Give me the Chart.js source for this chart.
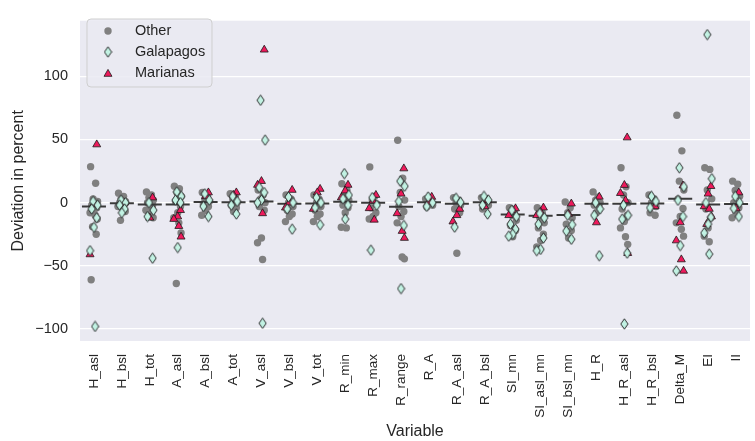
<!DOCTYPE html>
<html lang="en">

<head>
  <meta charset="UTF-8">
  <title>Deviation by variable</title>
  <script src="https://cdn.jsdelivr.net/npm/chart.js"></script>
  <style>
    html, body {
      margin: 0;
      padding: 0;
      background: #ffffff;
      overflow: hidden;
    }

    #devChart {
      display: block;
    }
  </style>
</head>

<body>
  <canvas id="devChart" width="764" height="441"></canvas>

  <script>
    const categories = ['H_asl', 'H_bsl', 'H_tot', 'A_asl', 'A_bsl', 'A_tot', 'V_asl', 'V_bsl', 'V_tot',
      'R_min', 'R_max', 'R_range', 'R_A', 'R_A_asl', 'R_A_bsl', 'SI_mn', 'SI_asl_mn', 'SI_bsl_mn',
      'H_R', 'H_R_asl', 'H_R_bsl', 'Delta_M', 'EI', 'II'];

    const yTicks = [-100, -50, 0, 50, 100];

    // mean per variable (short dark dash)
    const meanVals = [-3, -0.5, -1.5, -1.5, 0.5, 0.4, 1, -0.8, -0.6, 0.8, 0, -3.3,
      0.4, -0.8, 0.4, -9.3, -10.3, -9.8, -0.8, -0.8, -0.6, 3, -1.5, -1];

    const otherVals = [
      [28.5, 15.4, 3, 1, -2, -4, -6, -8, -10, -13, -19, -25, -61],
      [7.5, 5, 3, 1, 0, -1, -2, -3, -5, -7, -14],
      [8.5, 6, 4, 2, 0, -2, -4, -6, -9, -12],
      [13, 11, 8, 5, 1, -3, -8, -12, -16, -24, -64],
      [8, 5, 3, 1, -1, -3, -6, -10],
      [7, 5, 3, 0, -2, -4, -7],
      [10, 6, 3, 0, -3, -6, -28, -31.7, -45],
      [6, 3, 0, -3, -6, -9, -11, -15],
      [6, 3, 0, -3, -6, -9, -11, -15],
      [15, 10, 6, 2, -2, -4, -8, -19.5, -20],
      [28.3, 5, 2, -1, -4, -8, -11, -13],
      [49.4, 19.3, 8, 2, -3, -7, -11, -16, -43, -44.5],
      [3, 2, 0, -2, -3.5],
      [4, 2, 0, -2, -5, -8, -40],
      [4, 2, 0, -2, -5],
      [-4, -7, -10, -14, -18, -22, -27],
      [-4, -8, -12, -16, -20, -25, -30, -35],
      [0.5, -4, -8, -12, -17, -22, -28],
      [8.5, 4.6, 2, 0, -2, -5, -8],
      [27.6, 12.6, 6, 0, -5, -10, -15, -20, -27, -33],
      [6, 3, 0, -3, -8, -10],
      [69.2, 41, 17, 10, 3, -4.6, -11, -16, -21, -26.5],
      [27.6, 26.3, 10, 3, -5, -12, -20, -26.5, -31],
      [17, 14.5, 9.6, 5, 0, -4, -8, -12]
    ];

    const galapagosVals = [
      [1, -2, -5, -12, -19.5, -38, -98],
      [2, 0, -2, -5, -8],
      [0, -6, -11, -44],
      [8.5, 5, 2, 0, -35.5],
      [7, 2, -3, -11],
      [5, 1, -2, -9],
      [81, 49.5, 12, 8, 2, 0, -95.5],
      [4.5, 0, -5, -21],
      [4, 0, -4, -17.5],
      [23, 6, 3, -2, -13],
      [4, -2, -37.6],
      [17, 13, 1, -18, -68],
      [4.5, 0, -3],
      [3.5, 0.3, -19.4],
      [5, 2, -2, -9],
      [-6, -11, -17, -21, -25, -26.5],
      [-8.5, -12, -17, -28, -37, -38],
      [-10, -17.4, -22.5, -29],
      [0, -5, -10, -42],
      [-2, -10, -13, -40, -96],
      [5, 1, -4],
      [27.6, 12.6, 1.8, -11, -34, -54],
      [133, 19, 0, -11.6, -17, -24, -40.7],
      [5, 0, -4.6, -11]
    ];

    const marianasVals = [
      [46, -1, -41],
      [0, -1],
      [4, -12],
      [-6, -11, -13, -18.6, -27],
      [8, 5],
      [8, 6],
      [121, 17, 14, -8.5],
      [10, 0, -4],
      [10.8, 8, -5],
      [14, 9.5, 4],
      [6, 1.5, -4.5, -13.6],
      [27, 7, -8.5, -22.5, -28],
      [4.5, 0.5],
      [-5, -10, -15],
      [2, -3],
      [-4.6, -6, -10],
      [-4, -7.5, -10],
      [-0.8, -9],
      [4.6, -15.7],
      [51.5, 13.9, 7.5, 1.8, -40],
      [-3],
      [13.5, -15.7, -30, -45, -54],
      [13, 7, -3, -5, -11, -17],
      [8, -4.6]
    ];

    // fixed strip offsets so points in one column do not sit on top of each other
    const jitter = [-0.12, 0.06, -0.03, 0.13, -0.08, 0.1, 0.0, -0.14, 0.04, 0.12, -0.05, 0.08, -0.1];

    const textColor = '#262626';
    const fontFamily = '"Liberation Sans", Arial, sans-serif';

    function toPoints(groups, shift) {
      const pts = [];
      groups.forEach((vals, i) => {
        vals.forEach((v, k) => {
          pts.push({ x: i + jitter[(k + shift) % jitter.length], y: v });
        });
      });
      return pts;
    }

    // thin diamond marker like matplotlib's 'd'
    function makeDiamond() {
      const c = document.createElement('canvas');
      c.width = 9;
      c.height = 12;
      const g = c.getContext('2d');
      g.beginPath();
      g.moveTo(4.5, 0.8);
      g.lineTo(8.1, 6);
      g.lineTo(4.5, 11.2);
      g.lineTo(0.9, 6);
      g.closePath();
      g.fillStyle = '#c2f2e3';
      g.fill();
      g.lineWidth = 0.9;
      g.strokeStyle = '#1a1a1a';
      g.stroke();
      return c;
    }
    const diamond = makeDiamond();

    const plotBackground = {
      id: 'plotBackground',
      beforeDraw(chart) {
        const { ctx, chartArea } = chart;
        ctx.save();
        ctx.fillStyle = '#eaeaf2';
        ctx.fillRect(chartArea.left, chartArea.top, chartArea.right - chartArea.left, chartArea.bottom - chartArea.top);
        ctx.restore();
      }
    };

    const legendBox = {
      id: 'legendBox',
      afterDraw(chart) {
        const ctx = chart.ctx;
        const x = 87, y = 19, w = 125, h = 68, r = 4;
        ctx.save();
        ctx.beginPath();
        ctx.moveTo(x + r, y);
        ctx.arcTo(x + w, y, x + w, y + h, r);
        ctx.arcTo(x + w, y + h, x, y + h, r);
        ctx.arcTo(x, y + h, x, y, r);
        ctx.arcTo(x, y, x + w, y, r);
        ctx.closePath();
        ctx.fillStyle = 'rgba(234,234,242,0.85)';
        ctx.fill();
        ctx.lineWidth = 1;
        ctx.strokeStyle = '#cfcfcf';
        ctx.stroke();

        const rows = [
          { label: 'Other', y: 31 },
          { label: 'Galapagos', y: 52 },
          { label: 'Marianas', y: 73 }
        ];
        // markers
        ctx.fillStyle = '#808080';
        ctx.beginPath();
        ctx.arc(108, rows[0].y, 3.7, 0, Math.PI * 2);
        ctx.fill();
        ctx.drawImage(diamond, 108 - 4.5, rows[1].y - 6);
        ctx.fillStyle = '#ee1a5c';
        ctx.strokeStyle = '#1a1a1a';
        ctx.lineWidth = 0.8;
        Chart.helpers.drawPoint(ctx, { pointStyle: 'triangle', radius: 4.6, rotation: 0, borderWidth: 0.8 }, 108, rows[2].y + 1);

        ctx.fillStyle = textColor;
        ctx.font = '14.5px ' + fontFamily;
        ctx.textBaseline = 'middle';
        rows.forEach(row => ctx.fillText(row.label, 135, row.y));
        ctx.restore();
      }
    };

    const chart = new Chart(document.getElementById('devChart'), {
      type: 'scatter',
      data: {
        datasets: [
          {
            label: 'Galapagos',
            data: toPoints(galapagosVals, 2),
            pointStyle: diamond,
            order: 0
          },
          {
            label: 'Marianas',
            data: toPoints(marianasVals, 5),
            pointStyle: 'triangle',
            radius: 4.6,
            backgroundColor: '#ee1a5c',
            borderColor: '#1a1a1a',
            borderWidth: 0.8,
            order: 1
          },
          {
            label: 'mean',
            data: meanVals.map((v, i) => ({ x: i, y: v })),
            pointStyle: 'line',
            radius: 12,
            borderColor: '#3a3a3a',
            borderWidth: 2,
            order: 2
          },
          {
            label: 'Other',
            data: toPoints(otherVals, 0),
            pointStyle: 'circle',
            radius: 3.7,
            backgroundColor: '#808080',
            borderWidth: 0,
            order: 3
          }
        ]
      },
      options: {
        responsive: false,
        animation: false,
        events: [],
        layout: {
          padding: { top: 13, left: 0, right: 0, bottom: 0 }
        },
        plugins: {
          legend: { display: false },
          tooltip: { enabled: false }
        },
        scales: {
          x: {
            type: 'linear',
            min: -0.5,
            max: 23.5,
            afterBuildTicks: (scale) => {
              scale.ticks = categories.map((c, i) => ({ value: i }));
            },
            afterFit: (scale) => {
              scale.height = 100;
            },
            grid: { display: false },
            border: { display: false },
            ticks: {
              autoSkip: false,
              minRotation: 90,
              maxRotation: 90,
              padding: 5,
              color: textColor,
              font: { family: fontFamily, size: 13.5 },
              callback: (v) => categories[v]
            },
            title: {
              display: true,
              text: 'Variable',
              color: textColor,
              font: { family: fontFamily, size: 16 },
              padding: { top: 4, bottom: 0 }
            }
          },
          y: {
            min: -109.5,
            max: 144,
            afterBuildTicks: (scale) => {
              scale.ticks = yTicks.map(v => ({ value: v }));
            },
            afterFit: (scale) => {
              scale.width = 80;
            },
            grid: {
              color: '#ffffff',
              lineWidth: 1.3,
              drawTicks: false
            },
            border: { display: false },
            ticks: {
              padding: 12,
              color: textColor,
              font: { family: fontFamily, size: 14.5 },
              callback: (v) => String(v).replace('-', '\u2212')
            },
            title: {
              display: true,
              text: 'Deviation in percent',
              color: textColor,
              font: { family: fontFamily, size: 16 },
              padding: { top: 9, bottom: 0 }
            }
          }
        }
      },
      plugins: [plotBackground, legendBox]
    });
  </script>
</body>

</html>
